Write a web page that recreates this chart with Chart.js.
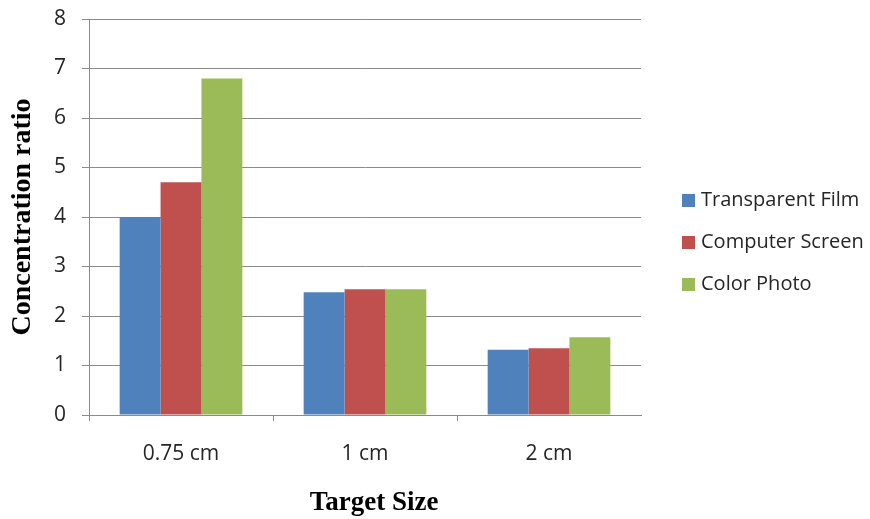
<!DOCTYPE html>
<html>
<head>
<meta charset="utf-8">
<title>Concentration ratio by target size</title>
<script src="https://cdn.jsdelivr.net/npm/chart.js@4/dist/chart.umd.min.js"></script>
<style>
  html, body { margin: 0; padding: 0; background: #ffffff; }
  #wrap { width: 870px; height: 519px; }
</style>
</head>
<body>
<div id="wrap"><canvas id="chart" width="870" height="519"></canvas></div>
<script>
// Target sizes on the x axis
const categories = ['0.75 cm', '1 cm', '2 cm'];

// Concentration ratio per display medium
const transparentFilm = [4.0, 2.48, 1.32];
const computerScreen  = [4.7, 2.54, 1.35];
const colorPhoto      = [6.8, 2.54, 1.57];

const seriesNames = ['Transparent Film', 'Computer Screen', 'Color Photo'];
const seriesColors = ['#4F81BD', '#C0504D', '#9BBB59'];

const yTicks = [0, 1, 2, 3, 4, 5, 6, 7, 8];

const gridGray = '#8a8a8a';
const textColor = '#262626';
const sansFont = "'Open Sans', 'DejaVu Sans', sans-serif";
const serifFont = "'Liberation Serif', 'DejaVu Serif', serif";

// Legend on the right (one row per dataset) and the x-axis caption
const sideLegend = {
  id: 'sideLegend',
  afterDraw(chart) {
    const ctx = chart.ctx;
    ctx.save();
    ctx.font = '20px ' + sansFont;
    ctx.textBaseline = 'middle';
    ctx.textAlign = 'left';
    chart.data.datasets.forEach((ds, i) => {
      const cy = 200 + i * 42;
      ctx.fillStyle = ds.backgroundColor;
      ctx.fillRect(682, cy - 6, 13, 13);
      ctx.fillStyle = textColor;
      ctx.fillText(ds.label, 701, cy);
    });

    ctx.font = 'bold 27px ' + serifFont;
    ctx.fillStyle = '#000000';
    ctx.textAlign = 'center';
    ctx.fillText('Target Size', chart.chartArea.left + 285, 503);
    ctx.restore();
  }
};

const values = [transparentFilm, computerScreen, colorPhoto];

new Chart(document.getElementById('chart'), {
  type: 'bar',
  data: {
    labels: categories,
    datasets: seriesNames.map((name, i) => ({
      label: name,
      data: values[i],
      backgroundColor: seriesColors[i],
      borderWidth: 0,
      categoryPercentage: 3 / 4.5,
      barPercentage: 1.0
    }))
  },
  options: {
    responsive: false,
    animation: false,
    devicePixelRatio: 1,
    layout: { padding: { left: 0, right: 229, top: 19, bottom: 0 } },
    plugins: {
      legend: { display: false },
      tooltip: { enabled: false }
    },
    scales: {
      x: {
        offset: true,
        grid: {
          offset: true,
          drawOnChartArea: false,
          drawTicks: true,
          tickLength: 6,
          color: (c) => (c.type === 'tick' ? gridGray : 'rgba(0,0,0,0)')
        },
        border: { display: true, color: gridGray, width: 1 },
        ticks: {
          color: textColor,
          font: { family: sansFont, size: 21 },
          padding: 20,
          maxRotation: 0
        },
        afterFit(scale) {
          scale.height = 104;
          scale.paddingLeft = 0;
          scale.paddingRight = 0;
        }
      },
      y: {
        min: 0,
        max: 8,
        afterBuildTicks(scale) { scale.ticks = yTicks.map(v => ({ value: v })); },
        grid: {
          color: gridGray,
          lineWidth: 1,
          drawTicks: true,
          tickLength: 7
        },
        border: { display: true, color: gridGray, width: 1 },
        ticks: {
          color: textColor,
          font: { family: sansFont, size: 21 },
          padding: 16
        },
        title: {
          display: true,
          text: 'Concentration ratio',
          color: '#000000',
          font: { family: serifFont, size: 28, weight: 'bold', lineHeight: 1.2 },
          padding: { top: 6, bottom: 0 }
        },
        afterFit(scale) {
          scale.width = 89;
          scale.paddingTop = 0;
          scale.paddingBottom = 0;
        }
      }
    }
  },
  plugins: [sideLegend]
});
</script>
</body>
</html>
